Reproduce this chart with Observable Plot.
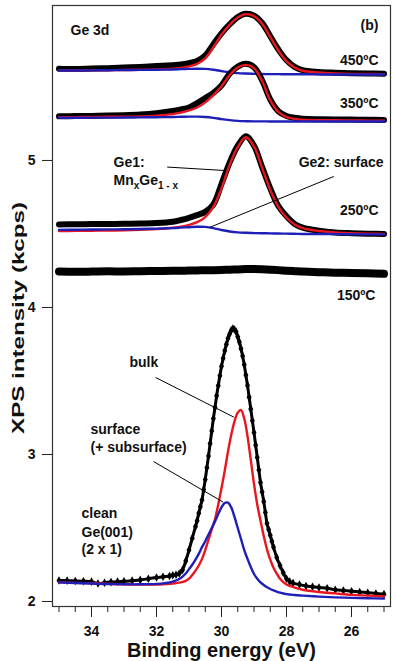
<!DOCTYPE html>
<html><head><meta charset="utf-8">
<script src="https://cdn.jsdelivr.net/npm/d3@7"></script>
<script src="https://cdn.jsdelivr.net/npm/@observablehq/plot@0.6"></script>
<style>body{margin:0;background:#fff} svg{display:block}</style>
</head><body><div id="chart"></div>
<script>
// binding-energy grid used by the annealed spectra (eV)
const beTop = [35, 34.5, 34, 33.5, 33, 32.5, 32, 31.5, 31.25, 31, 30.75, 30.5, 30.25, 30, 29.75, 29.5, 29.25, 29, 28.75, 28.5, 28.25, 28, 27.75, 27.5, 27, 26.5, 26, 25.5, 25];
const black450 = [5.624, 5.622, 5.625, 5.628, 5.632, 5.636, 5.642, 5.648, 5.652, 5.662, 5.677, 5.715, 5.79, 5.865, 5.925, 5.975, 5.998, 5.985, 5.935, 5.845, 5.755, 5.682, 5.636, 5.614, 5.602, 5.597, 5.594, 5.592, 5.59];
const red450   = [5.612, 5.612, 5.613, 5.614, 5.615, 5.617, 5.619, 5.624, 5.63, 5.64, 5.657, 5.695, 5.77, 5.855, 5.922, 5.972, 5.995, 5.982, 5.93, 5.84, 5.748, 5.676, 5.632, 5.61, 5.598, 5.592, 5.589, 5.588, 5.587];
const blue450  = [5.612, 5.612, 5.613, 5.614, 5.615, 5.616, 5.617, 5.619, 5.621, 5.623, 5.624, 5.623, 5.617, 5.608, 5.6, 5.594, 5.591, 5.589, 5.588, 5.587, 5.587, 5.586, 5.586, 5.586, 5.585, 5.585, 5.585, 5.585, 5.585];
const black350 = [5.30, 5.302, 5.303, 5.305, 5.308, 5.313, 5.322, 5.336, 5.347, 5.36, 5.39, 5.425, 5.46, 5.51, 5.59, 5.638, 5.657, 5.635, 5.545, 5.415, 5.335, 5.302, 5.29, 5.283, 5.28, 5.279, 5.278, 5.277, 5.276];
const red350   = [5.295, 5.295, 5.296, 5.297, 5.298, 5.30, 5.305, 5.315, 5.325, 5.34, 5.36, 5.395, 5.445, 5.505, 5.58, 5.632, 5.65, 5.628, 5.54, 5.41, 5.33, 5.295, 5.283, 5.277, 5.274, 5.273, 5.272, 5.271, 5.271];
const blue350  = [5.29, 5.29, 5.291, 5.291, 5.292, 5.293, 5.294, 5.296, 5.297, 5.298, 5.298, 5.296, 5.29, 5.281, 5.274, 5.269, 5.267, 5.266, 5.266, 5.265, 5.265, 5.265, 5.265, 5.265, 5.265, 5.265, 5.265, 5.265, 5.265];
const black250 = [4.565, 4.566, 4.567, 4.568, 4.569, 4.571, 4.574, 4.583, 4.595, 4.61, 4.628, 4.65, 4.70, 4.84, 4.985, 5.10, 5.165, 5.10, 4.955, 4.81, 4.69, 4.62, 4.568, 4.543, 4.522, 4.51, 4.505, 4.502, 4.50];
const red250   = [4.52, 4.521, 4.522, 4.523, 4.525, 4.528, 4.533, 4.542, 4.55, 4.562, 4.58, 4.615, 4.685, 4.81, 4.97, 5.09, 5.158, 5.095, 4.95, 4.80, 4.685, 4.612, 4.565, 4.54, 4.52, 4.51, 4.505, 4.502, 4.50];
const blue250  = [4.528, 4.529, 4.53, 4.531, 4.532, 4.534, 4.536, 4.54, 4.543, 4.546, 4.549, 4.548, 4.54, 4.527, 4.517, 4.511, 4.508, 4.506, 4.505, 4.504, 4.503, 4.502, 4.501, 4.50, 4.50, 4.499, 4.498, 4.497, 4.497];
const black150 = [4.245, 4.243, 4.244, 4.246, 4.245, 4.247, 4.248, 4.249, 4.25, 4.251, 4.252, 4.253, 4.254, 4.255, 4.257, 4.259, 4.261, 4.262, 4.26, 4.257, 4.254, 4.25, 4.247, 4.244, 4.24, 4.237, 4.235, 4.232, 4.229];

// clean Ge(001) spectrum (measured points)
const beClean = [35, 34.75, 34.5, 34.25, 34, 33.8, 33.6, 33.4, 33.2, 33, 32.75, 32.5, 32.25, 32, 31.8, 31.6, 31.5, 31.4, 31.3, 31.2, 31.1, 31.0, 30.9,
  30.8, 30.75, 30.7, 30.65, 30.6, 30.55, 30.5, 30.45, 30.4, 30.35, 30.3, 30.25, 30.2, 30.15, 30.1, 30.05, 30.0, 29.95, 29.9, 29.85, 29.8, 29.75, 29.7, 29.65, 29.6, 29.55, 29.5, 29.45, 29.4, 29.35, 29.3, 29.25, 29.2, 29.15, 29.1, 29.05, 29.0, 28.95, 28.9, 28.85, 28.8, 28.75, 28.7, 28.65, 28.6, 28.55, 28.5, 28.45, 28.4,
  28.3, 28.2, 28.1, 28.0, 27.9, 27.8, 27.6, 27.4, 27.2, 27.0, 26.75, 26.5, 26.25, 26, 25.75, 25.5, 25.25, 25];
const blackClean = [2.143, 2.142, 2.14, 2.138, 2.135, 2.122, 2.128, 2.132, 2.135, 2.137, 2.142, 2.147, 2.155, 2.163, 2.168, 2.174, 2.178, 2.182, 2.19, 2.215, 2.275, 2.35, 2.43,
  2.51, 2.55, 2.60, 2.645, 2.69, 2.76, 2.83, 2.91, 2.99, 3.075, 3.16, 3.245, 3.32, 3.40, 3.47, 3.535, 3.60, 3.655, 3.705, 3.75, 3.79, 3.82, 3.845, 3.857, 3.85, 3.835, 3.80, 3.765, 3.72, 3.67, 3.61, 3.54, 3.47, 3.39, 3.31, 3.23, 3.15, 3.065, 2.98, 2.895, 2.81, 2.745, 2.68, 2.605, 2.53, 2.49, 2.45, 2.41, 2.37,
  2.30, 2.245, 2.195, 2.155, 2.135, 2.125, 2.115, 2.105, 2.10, 2.095, 2.09, 2.08, 2.075, 2.07, 2.065, 2.06, 2.055, 2.05];
// fit components of the clean spectrum
const beFit = [35, 34.5, 34, 33.5, 33, 32.5, 32, 31.75, 31.5, 31.25, 31.1, 31.0, 30.9, 30.8, 30.7, 30.6, 30.5, 30.4, 30.3, 30.2, 30.1, 30.0, 29.9, 29.8, 29.7, 29.6, 29.5, 29.4, 29.3, 29.2, 29.1, 29.0, 28.9, 28.8, 28.7, 28.6, 28.5, 28.4, 28.3, 28.2, 28.0, 27.75, 27.5, 27, 26.5, 26, 25.5, 25];
const redClean = [2.13, 2.127, 2.124, 2.12, 2.117, 2.115, 2.115, 2.118, 2.122, 2.13, 2.14, 2.155, 2.18, 2.21, 2.245, 2.29, 2.35, 2.42, 2.49, 2.56, 2.66, 2.77, 2.89, 3.02, 3.135, 3.225, 3.285, 3.302, 3.245, 3.125, 2.965, 2.80, 2.66, 2.55, 2.445, 2.355, 2.285, 2.23, 2.19, 2.155, 2.115, 2.095, 2.08, 2.065, 2.055, 2.045, 2.04, 2.035];
const blueClean = [2.13, 2.126, 2.122, 2.119, 2.117, 2.117, 2.12, 2.125, 2.135, 2.16, 2.19, 2.22, 2.25, 2.285, 2.324, 2.37, 2.41, 2.455, 2.50, 2.545, 2.595, 2.64, 2.67, 2.672, 2.64, 2.575, 2.50, 2.425, 2.35, 2.29, 2.235, 2.187, 2.155, 2.13, 2.112, 2.097, 2.085, 2.075, 2.067, 2.06, 2.05, 2.044, 2.04, 2.033, 2.028, 2.025, 2.022, 2.02];

// axis ticks
const xMajor = [34, 32, 30, 28, 26];
const xMinor = [35, 34.5, 34, 33.5, 33, 32.5, 32, 31.5, 31, 30.5, 30, 29.5, 29, 28.5, 28, 27.5, 27, 26.5, 26, 25.5, 25];
const yTicks = [2, 3, 4, 5];

// annotations (in data units: binding energy, intensity)
const labelsStart = [
  {t: "Ge 3d", be: 34.646, v: 5.884},
  {t: "Ge1:", be: 33.323, v: 4.986},
  {t: "MnxGe1 - x", be: 33.323, v: 4.864},
  {t: "bulk", be: 32.831, v: 3.626},
  {t: "surface", be: 34.031, v: 3.170},
  {t: "(+ subsurface)", be: 34.031, v: 3.048},
  {t: "clean", be: 34.308, v: 2.599},
  {t: "Ge(001)", be: 34.308, v: 2.469},
  {t: "(2 x 1)", be: 34.308, v: 2.354}
];
const labelsEnd = [
  {t: "(b)", be: 25.169, v: 5.918},
  {t: "450ºC", be: 25.169, v: 5.680},
  {t: "350ºC", be: 25.169, v: 5.388},
  {t: "250ºC", be: 25.169, v: 4.660},
  {t: "150ºC", be: 25.262, v: 4.082},
  {t: "Ge2: surface", be: 25.015, v: 4.986}
];
const leaders = [
  {x1: 31.67, y1: 4.955, x2: 29.93, y2: 4.932},
  {x1: 26.545, y1: 4.891, x2: 30.36, y2: 4.545},
  {x1: 32.03, y1: 3.524, x2: 29.62, y2: 3.254},
  {x1: 32.09, y1: 2.952, x2: 29.95, y2: 2.676}
];

const zip = (be, v) => be.map((b, i) => ({be: b, v: v[i]}));
const RED = "#e8161e", BLUE = "#1f1fb8";
const F = "'Liberation Sans', Arial, Helvetica, sans-serif";

const bandLine = (vals, w) => Plot.line(zip(beTop, vals), {x: "be", y: "v", stroke: "#000", strokeWidth: w, curve: "catmull-rom", strokeLinejoin: "round"});
const fitLine = (be, vals, c) => Plot.line(zip(be, vals), {x: "be", y: "v", stroke: c, strokeWidth: 2.4, curve: "catmull-rom"});

const svg = Plot.plot({
  width: 395, height: 661,
  marginLeft: 52, marginRight: 5, marginTop: 5, marginBottom: 55,
  style: {fontFamily: F, fontWeight: "bold", fontSize: "14px", color: "#111", background: "#fff"},
  x: {domain: [35.2, 24.8], label: null},
  y: {domain: [1.966, 6.054], label: null},
  marks: [
    Plot.axisX({ticks: xMinor, tickSize: 6, tickFormat: () => "", label: null, stroke: "#222"}),
    Plot.axisX({ticks: xMajor, tickSize: 11, tickPadding: 9, tickFormat: d => String(d), label: null, fontSize: 14, fontWeight: "bold", stroke: "#222"}),
    Plot.axisY({ticks: yTicks, tickSize: 10, tickPadding: 7, tickFormat: d => String(d), label: null, fontSize: 14, fontWeight: "bold", stroke: "#222"}),
    Plot.frame({stroke: "#333", strokeWidth: 1.2}),
    // 450 C
    bandLine(black450, 6), fitLine(beTop, red450, RED), fitLine(beTop, blue450, BLUE),
    // 350 C
    bandLine(black350, 6), fitLine(beTop, red350, RED), fitLine(beTop, blue350, BLUE),
    // 250 C
    bandLine(black250, 6), fitLine(beTop, red250, RED), fitLine(beTop, blue250, BLUE),
    // 150 C
    bandLine(black150, 8),
    // clean
    Plot.line(zip(beClean, blackClean), {x: "be", y: "v", stroke: "#000", strokeWidth: 3, curve: "catmull-rom"}),
    Plot.dot(zip(beClean, blackClean), {x: "be", y: "v", symbol: "diamond", r: 2.6, fill: "#000"}),
    fitLine(beFit, redClean, RED), fitLine(beFit, blueClean, BLUE),
    // leader lines
    Plot.link(leaders, {x1: "x1", y1: "y1", x2: "x2", y2: "y2", stroke: "#000", strokeWidth: 1}),
    // labels
    Plot.text(labelsStart, {x: "be", y: "v", text: "t", textAnchor: "start", fontSize: 14, fontWeight: "bold", fill: "#111"}),
    Plot.text(labelsEnd, {x: "be", y: "v", text: "t", textAnchor: "end", fontSize: 14, fontWeight: "bold", fill: "#111"}),
    Plot.text(["XPS intensity (kcps)"], {frameAnchor: "left", textAnchor: "middle", lineAnchor: "middle", dx: -34, dy: 12, rotate: -90, fontSize: 17, fontWeight: "bold", fill: "#111"}),
    Plot.text(["Binding energy (eV)"], {frameAnchor: "bottom", textAnchor: "middle", dy: 50, lineAnchor: "bottom", fontSize: 20, fontWeight: "bold", fill: "#111"})
  ]
});

d3.select(svg).selectAll("text").each(function () {
  const s = this.textContent;
  if (s === "MnxGe1 - x") {
    const t = d3.select(this);
    t.text(null);
    t.append("tspan").text("Mn");
    t.append("tspan").attr("font-size", 10).attr("dy", 4).text("x");
    t.append("tspan").attr("dy", -4).text("Ge");
    t.append("tspan").attr("font-size", 10).attr("dy", 4).text("1 - x");
  } else if (s === "XPS intensity (kcps)") {
    const tr = this.getAttribute("transform") || "";
    this.setAttribute("transform", tr + " scale(1.42,1)");
  }
});

document.getElementById("chart").appendChild(svg);
</script>
</body></html>
